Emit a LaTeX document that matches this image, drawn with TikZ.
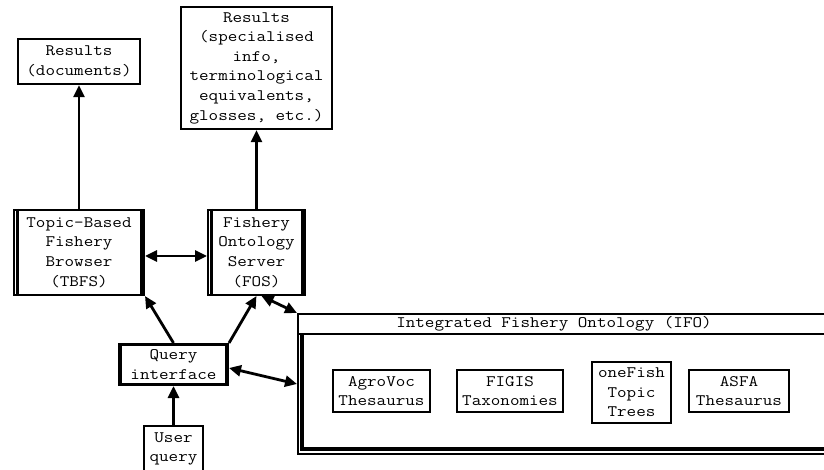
\documentclass[tikz,border=0pt]{standalone}
\usepackage{fontspec}
\newfontfamily\cour{Latin Modern Mono}[FakeStretch=1.16]
\usetikzlibrary{arrows.meta}
\begin{document}
\begin{tikzpicture}[x=1pt,y=-1pt,
  every node/.style={font=\cour\fontsize{16}{19.6}\selectfont, align=center, inner sep=0pt, rectangle},
  sbox/.style={draw, line width=2.3pt},
  dbox/.style={draw, line width=1.6pt},
  qbox/.style={draw, line width=2.6pt},
  arr/.style={line width=2.8pt, -{Triangle[length=12pt,width=11pt]}},
  barr/.style={line width=2.8pt, {Triangle[length=12pt,width=11pt]}-{Triangle[length=12pt,width=11pt]}}
]
\useasboundingbox (0,0) rectangle (824,470);
\fill[white] (0,0) rectangle (824,470);
\clip (0,0) rectangle (824,470);

% results
\node[sbox, minimum width=122pt, minimum height=45pt] (resdoc) at (79,61.5) {Results\\(documents)};
\node[sbox, minimum width=151pt, minimum height=122pt] (resinfo) at (256.5,68) {Results\\(specialised\\info,\\terminological\\equivalents,\\glosses, etc.)};

% browsers / servers
\node[dbox, minimum width=130.4pt, minimum height=85.4pt] (tbfs) at (79,252.5) {Topic-Based\\Fishery\\Browser\\(TBFS)};
\node[dbox, minimum width=97.4pt, minimum height=85.4pt] (fos) at (256.5,252.5) {Fishery\\Ontology\\Server\\(FOS)};
\foreach \n in {tbfs,fos}{
  \draw[line width=2.8pt] ([xshift=4.5pt]\n.north west) -- ([xshift=4.5pt]\n.south west);
  \draw[line width=4.5pt] ([xshift=-3pt]\n.north east) -- ([xshift=-3pt]\n.south east);
}

% query
\node[qbox, minimum width=108.4pt, minimum height=40.4pt] (query) at (173.5,364.5) {Query\\interface};
\draw[line width=4.5pt] ([xshift=2pt]query.north west) -- ([xshift=2pt]query.south west);
\draw[line width=4pt] ([xshift=-2pt]query.north east) -- ([xshift=-2pt]query.south east);
\draw[line width=3.5pt] ([yshift=1.5pt]query.south west) -- ([yshift=1.5pt]query.south east);
\node[sbox, minimum width=58.7pt, minimum height=46pt] (user) at (173.5,449) {User\\query};

% IFO
\node[draw, line width=2pt, minimum width=542pt, minimum height=140pt] (ifo) at (569,384) {};
\node (ifotitle) at (554,324) {Integrated Fishery Ontology (IFO)};
\draw[line width=2.5pt] (298,334) -- (840,334);
\draw[line width=4pt] (302,334) -- (302,449);
\draw[line width=3.3pt] (300,449) -- (840,449);

\node[sbox, minimum width=96.7pt, minimum height=41.7pt] (agro) at (381.5,391) {AgroVoc\\Thesaurus};
\node[sbox, minimum width=105.7pt, minimum height=41.7pt] (figis) at (510,391) {FIGIS\\Taxonomies};
\node[sbox, minimum width=78.7pt, minimum height=60.7pt] (onefish) at (631.5,392.5) {oneFish\\Topic\\Trees};
\node[sbox, minimum width=99.7pt, minimum height=41.7pt] (asfa) at (739,391) {ASFA\\Thesaurus};

% connectors
\draw[arr] (tbfs.north) -- (resdoc.south);
\draw[arr] (fos.north) -- (resinfo.south);
\draw[barr] ([yshift=-3.5pt]tbfs.east) -- ([yshift=-3.5pt]fos.west);
\draw[arr] (query.north) -- (tbfs.south east);
\draw[arr] (query.north east) -- (fos.south);
\draw[barr] ([xshift=5pt]fos.south) -- (ifo.north west);
\draw[barr] ([yshift=-3.5pt]query.east) -- (ifo.west);
\draw[arr] (user.north) -- (query.south);
\end{tikzpicture}
\end{document}
